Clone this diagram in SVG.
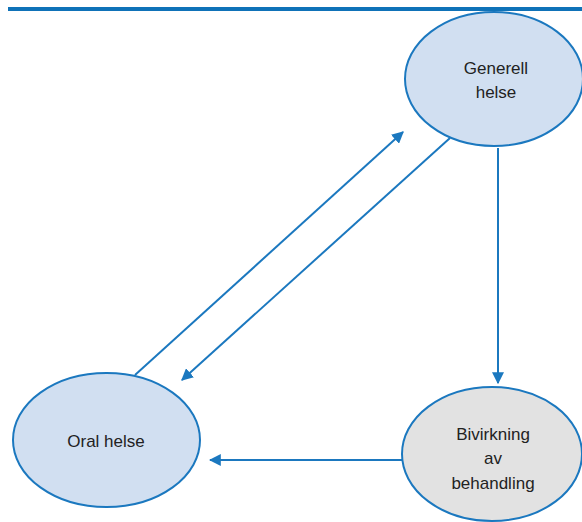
<svg xmlns="http://www.w3.org/2000/svg" width="582" height="522" viewBox="0 0 582 522">
<style>
.node{stroke:#1b78bf;stroke-width:2}
.blue{fill:#d1dff1}
.gray{fill:#e2e2e2}
.lbl{font-family:"Liberation Sans",Arial,sans-serif;font-size:17px;fill:#222;text-anchor:middle}
.edge{stroke:#1b78bf;stroke-width:2;fill:none;marker-end:url(#ah)}
</style>
<defs>
<marker id="ah" viewBox="0 0 10 10" refX="9" refY="5" markerWidth="6" markerHeight="6" orient="auto" markerUnits="strokeWidth">
<path d="M0,0 L10,5 L0,10 z" fill="#1b78bf"/>
</marker>
</defs>
<rect x="8" y="7" width="574" height="4" fill="#0f72b8"/>
<g id="edges">
<line class="edge" x1="135" y1="375" x2="403" y2="132"/>
<line class="edge" x1="450" y1="138" x2="182" y2="380"/>
<line class="edge" x1="498" y1="148" x2="498" y2="383"/>
<line class="edge" x1="402" y1="460" x2="210" y2="460"/>
</g>
<g id="generell">
<ellipse class="node blue" cx="494" cy="79" rx="89" ry="67"/>
<text class="lbl" x="496" y="74">Generell</text>
<text class="lbl" x="496" y="98">helse</text>
</g>
<g id="oral">
<ellipse class="node blue" cx="106.5" cy="440" rx="93.5" ry="67"/>
<text class="lbl" x="106" y="447">Oral helse</text>
</g>
<g id="bivirkning">
<ellipse class="node gray" cx="492" cy="454" rx="90" ry="67"/>
<text class="lbl" x="493" y="440">Bivirkning</text>
<text class="lbl" x="493" y="464">av</text>
<text class="lbl" x="493" y="489">behandling</text>
</g>
</svg>
